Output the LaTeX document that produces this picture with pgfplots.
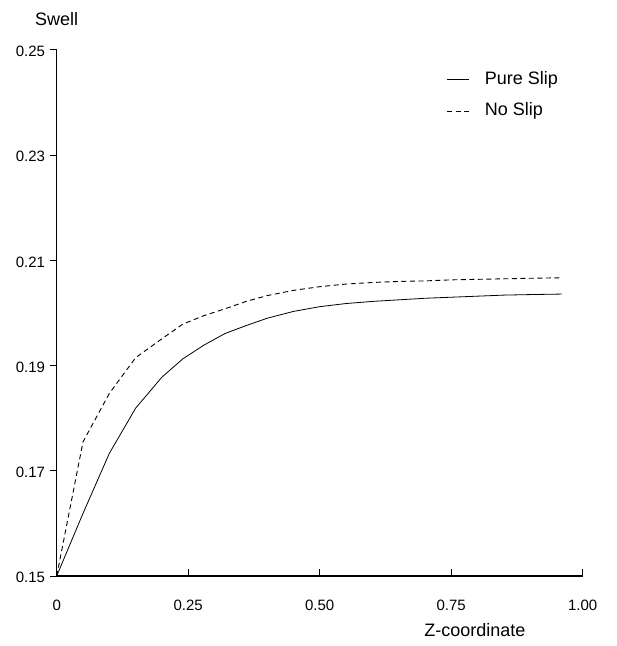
\documentclass[border=0pt]{standalone}
\usepackage{pgfplots}
\pgfplotsset{compat=1.18}
\usepackage{fontspec}
\setmainfont{Liberation Sans}
\begin{document}
\begin{tikzpicture}
\path[use as bounding box] (-56.7bp,-70bp) rectangle (560.3bp,576bp);
\begin{axis}[
  scale only axis,
  width=526bp, height=526bp,
  at={(0,0)}, anchor=south west,
  axis lines*=left,
  axis line style={line width=1.1bp},
  xmin=0, xmax=1, ymin=0.15, ymax=0.25,
  xtick={0,0.25,0.5,0.75,1},
  xticklabels={0,0.25,0.50,0.75,1.00},
  ytick={0.15,0.17,0.19,0.21,0.23,0.25},
  yticklabels={0.15,0.17,0.19,0.21,0.23,0.25},
  /pgf/number format/assume math mode=true,
  tick align=inside,
  major tick length=6.5bp,
  tick style={line width=1bp, black},
  ytick style={xshift=-6.5bp},
  ticklabel style={font=\fontsize{15bp}{15bp}\selectfont, inner sep=0pt},
  xticklabel style={anchor=center, yshift=-29bp},
  yticklabel style={anchor=east, xshift=-11.5bp, yshift=-1.5bp},
  xlabel={Z-coordinate},
  ylabel={Swell},
  label style={font=\fontsize{18bp}{18bp}\selectfont, inner sep=0pt},
  xlabel style={at={(axis description cs:0.795,-0.1027)}, anchor=center},
  ylabel style={at={(axis description cs:0,1.058)}, anchor=center, rotate=-90},
  legend style={draw=none, fill=none, at={(axis description cs:0.7414,0.9135)}, anchor=west,
    inner sep=0pt, font=\fontsize{18bp}{18bp}\selectfont,
    nodes={inner sep=0pt, text height=13bp, text depth=4bp},
    row sep=14.5bp, column sep=15bp},
  legend cell align=left,
  legend image code/.code={\draw[#1] (0bp,0bp) -- (22bp,0bp);},
]
\addplot[black, line width=0.8bp] coordinates {
(0,0.150) (0.05,0.1619) (0.10,0.1733) (0.15,0.1819) (0.20,0.1878) (0.24,0.1913)
(0.28,0.1939) (0.32,0.1961) (0.36,0.1976) (0.40,0.1990) (0.45,0.2003) (0.50,0.2012)
(0.55,0.2018) (0.60,0.2022) (0.65,0.2025) (0.70,0.2028) (0.75,0.2030) (0.80,0.2032)
(0.85,0.2034) (0.90,0.2035) (0.96,0.2036)};
\addlegendentry{Pure Slip}
\addplot[black, line width=0.9bp, dash pattern=on 5bp off 3.5bp] coordinates {
(0,0.150) (0.05,0.1755) (0.10,0.1847) (0.15,0.1915) (0.20,0.1951) (0.24,0.1979)
(0.28,0.1995) (0.32,0.2008) (0.36,0.2022) (0.40,0.2033) (0.45,0.2043) (0.50,0.2050)
(0.55,0.2055) (0.60,0.2058) (0.65,0.2060) (0.70,0.2061) (0.75,0.2063) (0.80,0.2064)
(0.85,0.2065) (0.90,0.2066) (0.96,0.2067)};
\addlegendentry{No Slip}
\end{axis}
\end{tikzpicture}
\end{document}
